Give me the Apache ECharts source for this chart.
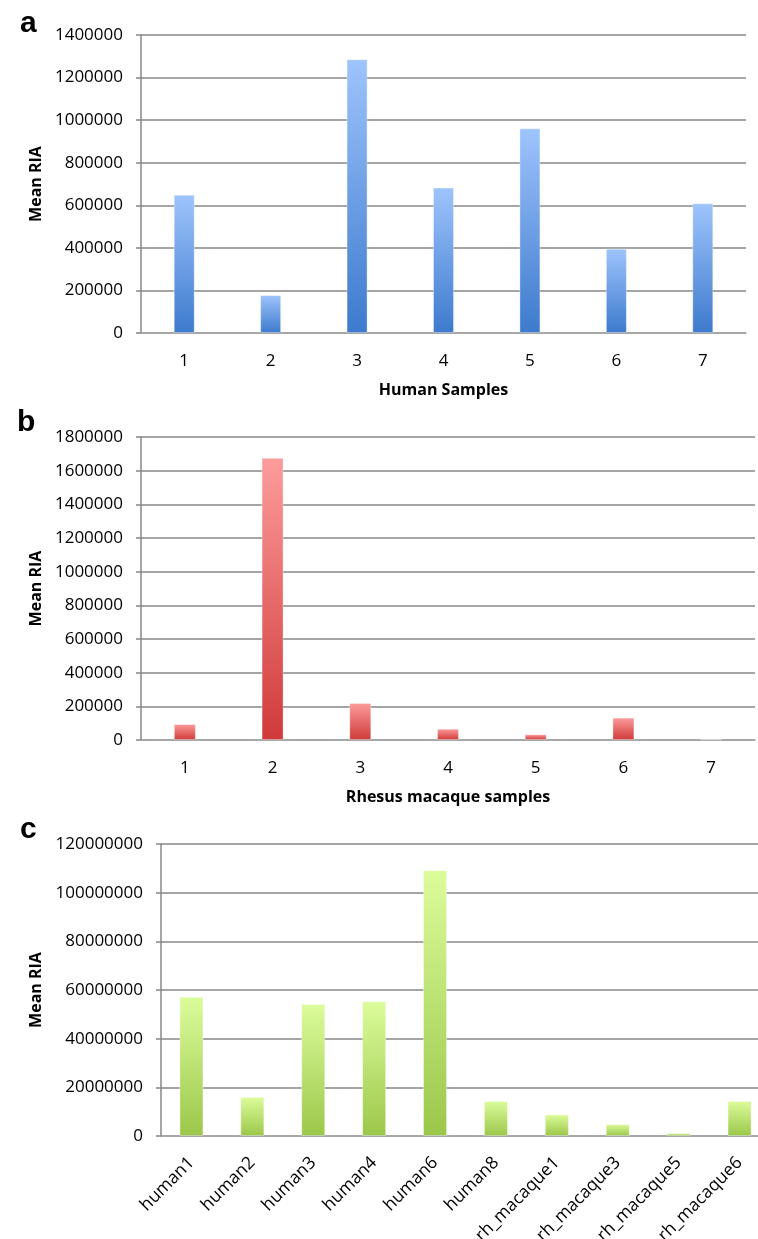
<!DOCTYPE html>
<html>
<head>
<meta charset="utf-8">
<script src="https://cdn.jsdelivr.net/npm/echarts@6/dist/echarts.min.js"></script>
<style>
html,body{margin:0;padding:0;background:#fff;}
#chart{width:758px;height:1239px;}
</style>
</head>
<body>
<div id="chart"></div>
<script>
// ---- data ----
var humanCategories = ['1','2','3','4','5','6','7'];
var humanValues = [650000, 178000, 1286000, 683000, 962000, 396000, 609000];

var rhesusCategories = ['1','2','3','4','5','6','7'];
var rhesusValues = [95000, 1676000, 220000, 67000, 34000, 133000, 4000];

var combinedCategories = ['human1','human2','human3','human4','human6','human8','rh_macaque1','rh_macaque3','rh_macaque5','rh_macaque6'];
var combinedValues = [57200000, 16000000, 54200000, 55400000, 109200000, 14400000, 8900000, 4900000, 1200000, 14400000];

var panelLetters = ['a','b','c'];
var xTitles = ['Human Samples', 'Rhesus macaque samples', ''];
var yTitle = 'Mean RIA';

// ---- styles ----
var FONT = 'Open Sans';
var gridColor = '#878787';

function grad(top, bottom) {
  return new echarts.graphic.LinearGradient(0, 0, 0, 1, [
    {offset: 0, color: top}, {offset: 1, color: bottom}
  ]);
}

function yAxis(idx, max, interval, nameGap) {
  return {
    gridIndex: idx, type: 'value', min: 0, max: max, interval: interval,
    name: yTitle, nameLocation: 'middle', nameGap: nameGap, nameRotate: 90,
    nameTextStyle: {fontFamily: FONT, fontWeight: 'bold', fontSize: 16, color: '#000'},
    axisLine: {show: true, lineStyle: {color: gridColor, width: 1.5}},
    axisTick: {show: true, length: 5, lineStyle: {color: gridColor, width: 1.5}},
    axisLabel: {fontFamily: FONT, fontSize: 17, color: '#000', margin: 18,
                formatter: function (v) { return String(v); }},
    splitLine: {show: true, lineStyle: {color: gridColor, width: 1.5}}
  };
}

function xAxis(idx, cats, title, rotate) {
  return {
    gridIndex: idx, type: 'category', data: cats,
    name: title, nameLocation: 'middle', nameGap: 49,
    nameTextStyle: {fontFamily: FONT, fontWeight: 'bold', fontSize: 16, color: '#000'},
    axisLine: {show: true, lineStyle: {color: '#a8a8a8', width: 1.5}},
    axisTick: {show: false},
    axisLabel: {fontFamily: FONT, fontSize: rotate ? 17.5 : 17, color: '#000', margin: rotate ? 24 : 20, rotate: rotate || 0, interval: 0}
  };
}

var chart = echarts.init(document.getElementById('chart'), null, {renderer: 'canvas'});
var option = {
  animation: false,
  backgroundColor: '#fff',
  title: panelLetters.map(function (t, i) {
    return {
      text: t, left: [15, 12, 15][i], top: [4, 403, 810][i],
      textStyle: {fontFamily: 'Liberation Sans', fontWeight: 'bold', fontSize: 30, color: '#000'}
    };
  }),
  grid: [
    {left: 141, top: 35, width: 605, height: 298, outerBoundsMode: 'none', containLabel: false},
    {left: 141, top: 437, width: 614, height: 303, outerBoundsMode: 'none', containLabel: false},
    {left: 161, top: 844, width: 609, height: 292, outerBoundsMode: 'none', containLabel: false}
  ],
  xAxis: [
    xAxis(0, humanCategories, xTitles[0]),
    xAxis(1, rhesusCategories, xTitles[1]),
    xAxis(2, combinedCategories, xTitles[2], 45)
  ],
  yAxis: [
    yAxis(0, 1400000, 200000, 80),
    yAxis(1, 1800000, 200000, 80),
    yAxis(2, 120000000, 20000000, 101)
  ],
  series: [
    {type: 'bar', xAxisIndex: 0, yAxisIndex: 0, data: humanValues, barWidth: 21,
     itemStyle: {color: grad('#9ec4fc', '#3d7acd'), borderColor: 'rgba(255,255,255,0.35)', borderWidth: 1}},
    {type: 'bar', xAxisIndex: 1, yAxisIndex: 1, data: rhesusValues, barWidth: 22,
     itemStyle: {color: grad('#fd9c9c', '#cf3a39'), borderColor: 'rgba(255,255,255,0.35)', borderWidth: 1}},
    {type: 'bar', xAxisIndex: 2, yAxisIndex: 2, data: combinedValues, barWidth: 24,
     itemStyle: {color: grad('#dcfc9b', '#9bc74a'), borderColor: 'rgba(255,255,255,0.35)', borderWidth: 1}}
  ]
};
chart.setOption(option);
</script>
</body>
</html>
